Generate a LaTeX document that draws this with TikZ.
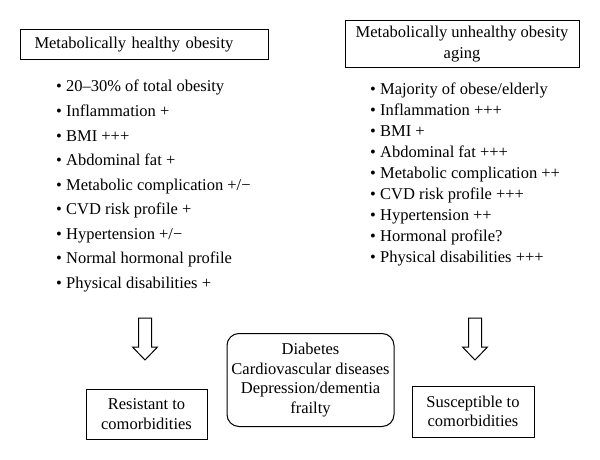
\documentclass[tikz,border=0pt]{standalone}
\usepackage{fontspec}
\setmainfont{Liberation Serif}
\usetikzlibrary{positioning}

\tikzset{
    txt/.style={font=\fontsize{16.5}{21}\selectfont},
    hdr/.style={txt, draw, line width=1pt, inner sep=0pt},
    item/.style={txt, inner sep=0pt, anchor=base west},
    outbox/.style={draw, line width=1pt, font=\fontsize{16.5}{19.5}\selectfont, align=center, inner sep=0pt},
}

\begin{document}
\begin{tikzpicture}[x=1pt, y=-1pt]
\useasboundingbox (0,0) rectangle (600,460);

% 两个标题框
\node[hdr, anchor=north west, minimum height=30, text width=220, inner xsep=14, align=left] (healthy) at (20,29) {Metabolically healthy obesity};
\node[hdr, minimum width=234, minimum height=47, align=center] (unhealthy) at (462,44.5) {Metabolically unhealthy obesity\\aging};

% 定义行距
\pgfmathsetmacro{\lstep}{24.5}
\pgfmathsetmacro{\rstep}{20.9}

\foreach \t [count=\i] in {{20--30\% of total obesity}, {Inflammation +}, {BMI +++}, {Abdominal fat +}, {Metabolic complication +/−}, {CVD risk profile +}, {Hypertension +/−}, {Normal hormonal profile}, {Physical disabilities +}} {
    \node[item] (hl\i) at (56,{92+(\i-1)*\lstep}) {\textbullet\ \t};
}

\foreach \t [count=\i] in {{Majority of obese/elderly}, {Inflammation +++}, {BMI +}, {Abdominal fat +++}, {Metabolic complication ++}, {CVD risk profile +++}, {Hypertension ++}, {Hormonal profile?}, {Physical disabilities +++}} {
    \node[item] (ul\i) at (370,{95+(\i-1)*\rstep}) {\textbullet\ \t};
}

% 空心箭头
\foreach \ax in {145,475} {
    \draw[line width=1pt] ({\ax-6.5},318) -- ({\ax+6.5},318) -- ({\ax+6.5},347) -- ({\ax+12.5},347)
        -- (\ax,360) -- ({\ax-12.5},347) -- ({\ax-6.5},347) -- cycle;
}

% 底部三个框
\node[outbox, minimum width=121, minimum height=50] (resistant) at (146.5,414) {Resistant to\\comorbidities};
\node[outbox, minimum width=167, minimum height=93, rounded corners=12] (diseases) at (310.5,380) {Diabetes\\Cardiovascular diseases\\Depression/dementia\\frailty};
\node[outbox, minimum width=122, minimum height=51] (susceptible) at (473,411.5) {Susceptible to\\comorbidities};

\end{tikzpicture}
\end{document}
